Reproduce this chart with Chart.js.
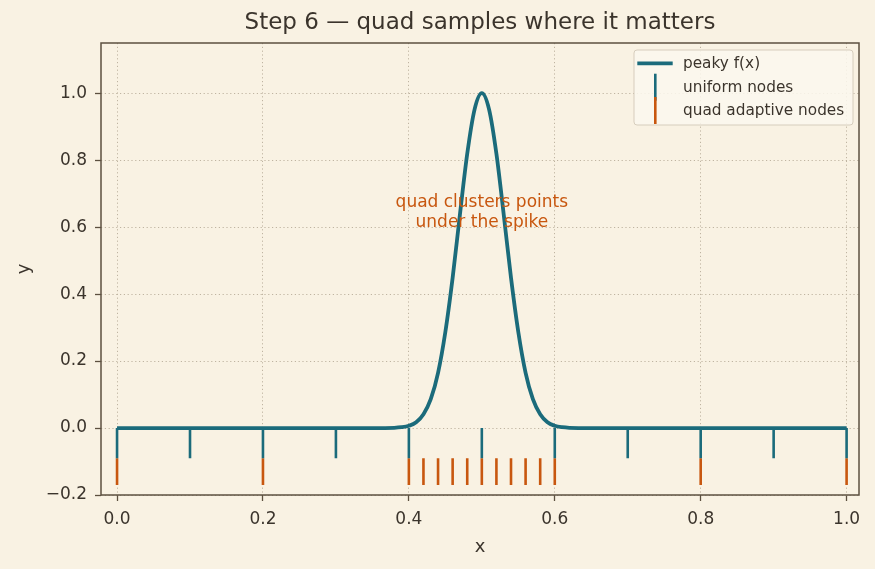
<!DOCTYPE html>
<html>
<head>
<meta charset="utf-8">
<title>Step 6 — quad samples where it matters</title>
<script src="https://cdn.jsdelivr.net/npm/chart.js@4.4.1/dist/chart.umd.min.js"></script>
<style>
  html, body { margin: 0; padding: 0; background: #f9f2e3; }
  #wrap { width: 875px; height: 569px; }
</style>
</head>
<body>
<div id="wrap"><canvas id="chart" width="875" height="569"></canvas></div>
<script>
// peaky f(x), values
const curveX = [0, 0.25, 0.3, 0.35, 0.38, 0.39, 0.40, 0.41, 0.42, 0.43, 0.44, 0.45, 0.46, 0.47, 0.48, 0.49, 0.50,
                0.51, 0.52, 0.53, 0.54, 0.55, 0.56, 0.57, 0.58, 0.59, 0.60, 0.61, 0.62, 0.65, 0.7, 0.75, 1.0];
const curveY = [0, 0, 0, 0, 0.0007, 0.0024, 0.0067, 0.017, 0.041, 0.086, 0.165, 0.287, 0.449, 0.638, 0.819, 0.951, 1.0,
                0.951, 0.819, 0.638, 0.449, 0.287, 0.165, 0.086, 0.041, 0.017, 0.0067, 0.0024, 0.0007, 0, 0, 0, 0];

// sample nodes drawn as rug ticks under the curve
const uniformNodes = [0, 0.1, 0.2, 0.3, 0.4, 0.5, 0.6, 0.7, 0.8, 0.9, 1.0];
const quadNodes = [0, 0.2, 0.4, 0.42, 0.44, 0.46, 0.48, 0.5, 0.52, 0.54, 0.56, 0.58, 0.6, 0.8, 1.0];
const uniformRug = [0, -0.09];
const quadRug = [-0.09, -0.17];

const xTicks = [0, 0.2, 0.4, 0.6, 0.8, 1.0];
const yTicks = [-0.2, 0, 0.2, 0.4, 0.6, 0.8, 1.0];
const xRange = [-0.022, 1.017];
const yRange = [-0.2, 1.15];

const chartTitle = "Step 6 — quad samples where it matters";
const seriesLabels = ["peaky f(x)", "uniform nodes", "quad adaptive nodes"];
const noteLines = ["quad clusters points", "under the spike"];
const noteAt = [0.5, 0.645];

const TEAL = "#1b6b7b";
const ORANGE = "#c8570f";
const INK = "#3b342c";
const SPINE = "#5c5040";
const GRID = "#bfb4a1";
const FONT = "'DejaVu Sans', 'Liberation Sans', sans-serif";

function rugSegments(nodes, span) {
    const pts = [];
    nodes.forEach((x) => {
        pts.push({ x: x, y: span[0] }, { x: x, y: span[1] }, { x: x, y: null });
    });
    return pts;
}

function tickLabel(v) {
    const s = Math.abs(v).toFixed(1);
    return v < 0 ? "\u2212" + s : s;
}

// title centred over the plot area, like the reference
const plotTitle = {
    id: "plotTitle",
    afterDraw(chart) {
        const { ctx, chartArea: a } = chart;
        ctx.save();
        ctx.fillStyle = INK;
        ctx.font = `23px ${FONT}`;
        ctx.textAlign = "center";
        ctx.textBaseline = "middle";
        ctx.fillText(chartTitle, (a.left + a.right) / 2, 23);
        ctx.restore();
    },
};

const frameSpines = {
    id: "frameSpines",
    afterDraw(chart) {
        const { ctx, chartArea: a } = chart;
        ctx.save();
        ctx.strokeStyle = SPINE;
        ctx.lineWidth = 1.5;
        ctx.strokeRect(a.left, a.top, a.right - a.left, a.bottom - a.top);
        ctx.restore();
    },
};

const noteText = {
    id: "noteText",
    afterDatasetsDraw(chart) {
        const { ctx, scales } = chart;
        const cx = scales.x.getPixelForValue(noteAt[0]);
        const cy = scales.y.getPixelForValue(noteAt[1]);
        ctx.save();
        ctx.fillStyle = ORANGE;
        ctx.font = `17px ${FONT}`;
        ctx.textAlign = "center";
        ctx.textBaseline = "middle";
        ctx.fillText(noteLines[0], cx, cy - 10);
        ctx.fillText(noteLines[1], cx, cy + 10);
        ctx.restore();
    },
};

const legendInside = {
    id: "legendInside",
    afterDraw(chart) {
        const { ctx, chartArea: a } = chart;
        const w = 219, h = 75;
        const left = a.right - 6 - w;
        const top = a.top + 7;
        ctx.save();
        ctx.beginPath();
        ctx.roundRect(left, top, w, h, 3);
        ctx.fillStyle = "rgba(252, 248, 239, 0.85)";
        ctx.fill();
        ctx.strokeStyle = "#d6cdbd";
        ctx.lineWidth = 1;
        ctx.stroke();

        const rows = [top + 13.3, top + 36.7, top + 60];
        const sx = left + 21.3;
        chart.data.datasets.forEach((ds, i) => {
            const y = rows[i];
            ctx.strokeStyle = ds.borderColor;
            ctx.lineCap = "butt";
            ctx.beginPath();
            if (i === 0) {
                ctx.lineWidth = 3.8;
                ctx.moveTo(left + 3.3, y);
                ctx.lineTo(left + 38.7, y);
            } else {
                ctx.lineWidth = 2.6;
                ctx.moveTo(sx, y - 13);
                ctx.lineTo(sx, y + 14);
            }
            ctx.stroke();
            ctx.fillStyle = INK;
            ctx.font = `15.3px ${FONT}`;
            ctx.textAlign = "left";
            ctx.textBaseline = "middle";
            ctx.fillText(seriesLabels[i], left + 49, y + 1);
        });
        ctx.restore();
    },
};

function axisOptions(ticks, range, isY) {
    return {
        type: "linear",
        min: range[0],
        max: range[1],
        afterBuildTicks: (scale) => {
            scale.ticks = ticks.map((v) => ({ value: v }));
        },
        afterFit: (scale) => {
            if (isY) scale.width = 101;
            else scale.height = 74;
        },
        ticks: {
            color: INK,
            font: { family: FONT, size: 17 },
            padding: isY ? 8 : 8,
            autoSkip: false,
            maxRotation: 0,
            callback: (v) => tickLabel(v),
        },
        grid: {
            color: GRID,
            lineWidth: 1,
            drawTicks: true,
            tickLength: 6,
            tickColor: SPINE,
            tickWidth: 1.3,
            tickBorderDash: [],
        },
        border: { display: false, dash: [1.2, 2.6] },
        title: {
            display: true,
            text: isY ? "y" : "x",
            color: INK,
            font: { family: FONT, size: 18 },
            padding: isY ? { top: 14, bottom: 0 } : { top: 0, bottom: 11 },
        },
    };
}

document.addEventListener("DOMContentLoaded", () => {
    const ctx = document.getElementById("chart");
    window.stepChart = new Chart(ctx, {
        type: "scatter",
        data: {
            datasets: [
                {
                    label: seriesLabels[0],
                    data: curveX.map((x, i) => ({ x: x, y: curveY[i] })),
                    showLine: true,
                    borderColor: TEAL,
                    borderWidth: 3.8,
                    pointRadius: 0,
                    cubicInterpolationMode: "monotone",
                    order: 0,
                },
                {
                    label: seriesLabels[1],
                    data: rugSegments(uniformNodes, uniformRug),
                    showLine: true,
                    spanGaps: false,
                    borderColor: TEAL,
                    borderWidth: 2.6,
                    borderCapStyle: "butt",
                    pointRadius: 0,
                    order: 1,
                },
                {
                    label: seriesLabels[2],
                    data: rugSegments(quadNodes, quadRug),
                    showLine: true,
                    spanGaps: false,
                    borderColor: ORANGE,
                    borderWidth: 2.6,
                    borderCapStyle: "butt",
                    pointRadius: 0,
                    order: 2,
                },
            ],
        },
        options: {
            responsive: false,
            animation: false,
            layout: { padding: { left: 0, right: 16, top: 43, bottom: 0 } },
            scales: {
                x: axisOptions(xTicks, xRange, false),
                y: axisOptions(yTicks, yRange, true),
            },
            plugins: {
                legend: { display: false },
                tooltip: { enabled: false },
                title: { display: false },
            },
        },
        plugins: [noteText, frameSpines, legendInside, plotTitle],
    });
});
</script>
</body>
</html>
